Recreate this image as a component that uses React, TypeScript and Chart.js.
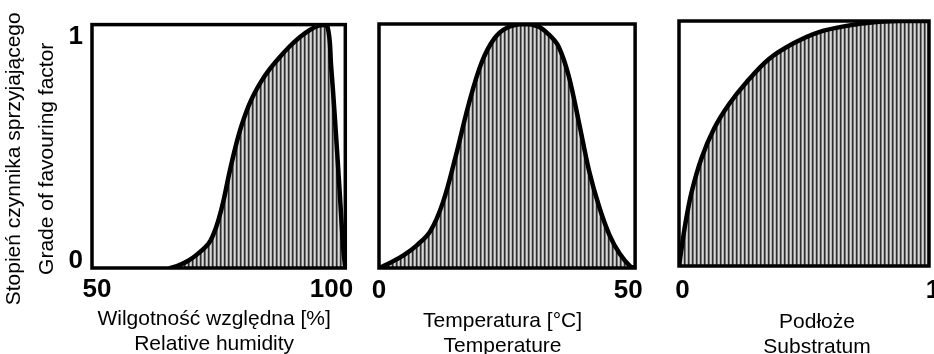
import React, { useEffect, useRef } from 'react';
import { Chart, registerables } from 'chart.js';

Chart.register(...registerables);

const FONT = '"Liberation Sans", Arial, Helvetica, sans-serif';

// ---- Panel 1: relative humidity ----
const humidityX = [65.5, 67, 69, 71, 73, 74, 75, 76, 77, 78, 79, 80, 81, 82, 83.5, 85, 87, 89, 91, 93, 95, 96.5, 97.2, 97.9, 98.9, 99.6, 100];
const humidityY = [0, 0.01, 0.03, 0.06, 0.1, 0.14, 0.2, 0.28, 0.38, 0.47, 0.55, 0.615, 0.67, 0.715, 0.77, 0.815, 0.865, 0.91, 0.948, 0.978, 0.997, 0.99, 0.83, 0.63, 0.31, 0.08, 0];
const humidityTicks = [50, 100];
const humidityTickLabels = ['50', '100'];
const humidityTitle = ['Wilgotność względna [%]', 'Relative humidity'];

// ---- Panel 2: temperature ----
const temperatureX = [0, 2.5, 5, 7.5, 10, 12.5, 15, 17.5, 20, 22.5, 25, 28.5, 31, 33, 35, 37, 39, 41, 43, 45, 47, 49, 50];
const temperatureY = [0, 0.025, 0.055, 0.095, 0.15, 0.27, 0.46, 0.67, 0.84, 0.94, 0.985, 1.0, 0.99, 0.96, 0.91, 0.79, 0.6, 0.4, 0.25, 0.135, 0.058, 0.008, 0];
const temperatureTicks = [0, 50];
const temperatureTickLabels = ['0', '50'];
const temperatureTitle = ['Temperatura [°C]', 'Temperature'];

// ---- Panel 3: substratum ----
const substratumX = [0, 0.01, 0.025, 0.05, 0.09, 0.14, 0.2, 0.27, 0.36, 0.46, 0.56, 0.67, 0.78, 0.88, 1.0];
const substratumY = [0, 0.07, 0.17, 0.3, 0.44, 0.56, 0.66, 0.75, 0.845, 0.91, 0.955, 0.98, 0.995, 1.0, 1.0];
const substratumTicks = [0, 1];
const substratumTickLabels = ['0', '1'];
const substratumTitle = ['Podłoże', 'Substratum'];

// ---- shared y axis ----
const gradeTicks = [0, 1];
const gradeTickLabels = ['0', '1'];
const gradeTitle = ['Stopień czynnika sprzyjającego', 'Grade of favouring factor'];

type Panel = {
  xs: number[];
  ys: number[];
  xDomain: [number, number];
  ticks: number[];
  tickLabels: string[];
  title: string[];
  left: number;
  width: number;
  padLeft: number;
  padRight: number;
  padTop: number;
  xAxisHeight: number;
  xLabelDomain: [number, number];
  xTickPad: number;
  titleDx: number;
  titleDy: number;
  yAxis?: {
    width: number;
    labelDomain: [number, number];
    pad: number;
    lineX: number[];
    dy: number;
  };
};

const PANELS: Panel[] = [
  {
    xs: humidityX, ys: humidityY, xDomain: [50, 100],
    ticks: humidityTicks, tickLabels: humidityTickLabels, title: humidityTitle,
    left: 0, width: 360, padLeft: 0, padRight: 11, padTop: 22, xAxisHeight: 86,
    xLabelDomain: [48.95, 102.94], xTickPad: 6, titleDx: -4.5, titleDy: 57,
    yAxis: { width: 92, labelDomain: [-0.0332, 1.0553], pad: 9, lineX: [-72, -39], dy: 12.5 },
  },
  {
    xs: temperatureX, ys: temperatureY, xDomain: [0, 50],
    ticks: temperatureTicks, tickLabels: temperatureTickLabels, title: temperatureTitle,
    left: 360, width: 290, padLeft: 19, padRight: 14, padTop: 24, xAxisHeight: 86,
    xLabelDomain: [0, 51.4], xTickPad: 7, titleDx: -4.5, titleDy: 58.5,
  },
  {
    xs: substratumX, ys: substratumY, xDomain: [0, 1],
    ticks: substratumTicks, tickLabels: substratumTickLabels, title: substratumTitle,
    left: 660, width: 300, padLeft: 19, padRight: 31, padTop: 21, xAxisHeight: 88,
    xLabelDomain: [-0.014, 0.984], xTickPad: 9, titleDx: 13, titleDy: 62,
  },
];

function makeStripePattern(): CanvasPattern | string {
  const c = document.createElement('canvas');
  c.width = 4;
  c.height = 4;
  const g = c.getContext('2d');
  if (!g) return '#999999';
  g.fillStyle = '#d9d9d9';
  g.fillRect(0, 0, 4, 4);
  g.fillStyle = '#2e2e2e';
  g.fillRect(0, 0, 1, 4);
  g.fillStyle = '#767676';
  g.fillRect(1, 0, 1, 4);
  g.fillStyle = '#b4b4b4';
  g.fillRect(3, 0, 1, 4);
  return g.createPattern(c, 'repeat') || '#999999';
}

const tickFont = { family: FONT, size: 26, weight: 'bold' as const, lineHeight: 1.2 };

function PanelChart({ panel }: { panel: Panel }) {
  const ref = useRef<HTMLCanvasElement>(null);

  useEffect(() => {
    if (!ref.current) return;
    const p = panel;

    const framePlugin = {
      id: 'panelFrame',
      afterDatasetsDraw(chart: any) {
        const { ctx, chartArea: a } = chart;
        ctx.save();
        ctx.strokeStyle = '#000';
        ctx.lineWidth = 3.5;
        ctx.strokeRect(a.left, a.top, a.right - a.left, a.bottom - a.top);
        ctx.restore();
      },
    };

    const titlePlugin = {
      id: 'panelTitles',
      afterDraw(chart: any) {
        const { ctx, chartArea: a } = chart;
        ctx.save();
        ctx.fillStyle = '#000';
        ctx.font = `21px ${FONT}`;
        ctx.textAlign = 'center';
        ctx.textBaseline = 'alphabetic';
        const cx = (a.left + a.right) / 2 + p.titleDx;
        p.title.forEach((t, i) => ctx.fillText(t, cx, a.bottom + p.titleDy + i * 25));
        if (p.yAxis) {
          const cy = (a.top + a.bottom) / 2 + p.yAxis.dy;
          gradeTitle.forEach((t, i) => {
            ctx.save();
            ctx.translate(a.left + p.yAxis!.lineX[i], cy);
            ctx.rotate(-Math.PI / 2);
            ctx.fillText(t, 0, 0);
            ctx.restore();
          });
        }
        ctx.restore();
      },
    };

    const scales: any = {
      x: { type: 'linear', display: false, min: p.xDomain[0], max: p.xDomain[1] },
      y: { type: 'linear', display: false, min: 0, max: 1 },
      xl: {
        type: 'linear',
        position: 'bottom',
        min: p.xLabelDomain[0],
        max: p.xLabelDomain[1],
        grid: { display: false, drawTicks: false },
        border: { display: false },
        ticks: {
          color: '#000',
          font: tickFont,
          padding: p.xTickPad,
          maxRotation: 0,
          autoSkip: false,
          callback: (_v: any, i: number) => p.tickLabels[i],
        },
        afterBuildTicks: (s: any) => {
          s.ticks = p.ticks.map((v) => ({ value: v }));
        },
        afterFit: (s: any) => {
          s.height = p.xAxisHeight;
        },
      },
    };

    if (p.yAxis) {
      const ya = p.yAxis;
      scales.yl = {
        type: 'linear',
        position: 'left',
        min: ya.labelDomain[0],
        max: ya.labelDomain[1],
        grid: { display: false, drawTicks: false },
        border: { display: false },
        ticks: {
          color: '#000',
          font: tickFont,
          padding: ya.pad,
          autoSkip: false,
          callback: (_v: any, i: number) => gradeTickLabels[i],
        },
        afterBuildTicks: (s: any) => {
          s.ticks = gradeTicks.map((v) => ({ value: v }));
        },
        afterFit: (s: any) => {
          s.width = ya.width;
        },
      };
    }

    const chart = new Chart(ref.current, {
      type: 'line',
      data: {
        datasets: [
          {
            data: p.xs.map((x, i) => ({ x, y: p.ys[i] })),
            xAxisID: 'x',
            yAxisID: 'y',
            borderColor: '#000',
            borderWidth: 4.5,
            borderJoinStyle: 'round',
            borderCapStyle: 'round',
            backgroundColor: makeStripePattern() as any,
            fill: 'origin',
            pointRadius: 0,
            tension: 0.35,
          },
        ],
      },
      options: {
        animation: false,
        responsive: false,
        maintainAspectRatio: false,
        events: [],
        layout: { padding: { left: p.padLeft, right: p.padRight, top: p.padTop, bottom: 0 } },
        plugins: {
          legend: { display: false },
          tooltip: { enabled: false },
          title: { display: false },
        },
        scales,
      } as any,
      plugins: [framePlugin, titlePlugin],
    });

    return () => chart.destroy();
  }, [panel]);

  return (
    <canvas
      ref={ref}
      width={panel.width}
      height={354}
      style={{ position: 'absolute', left: panel.left, top: 0, width: panel.width, height: 354 }}
    />
  );
}

export default function App() {
  return (
    <div
      style={{
        position: 'absolute',
        left: 0,
        top: 0,
        width: 934,
        height: 354,
        overflow: 'hidden',
        background: '#fff',
      }}
    >
      {PANELS.map((p, i) => (
        <PanelChart key={i} panel={p} />
      ))}
    </div>
  );
}
